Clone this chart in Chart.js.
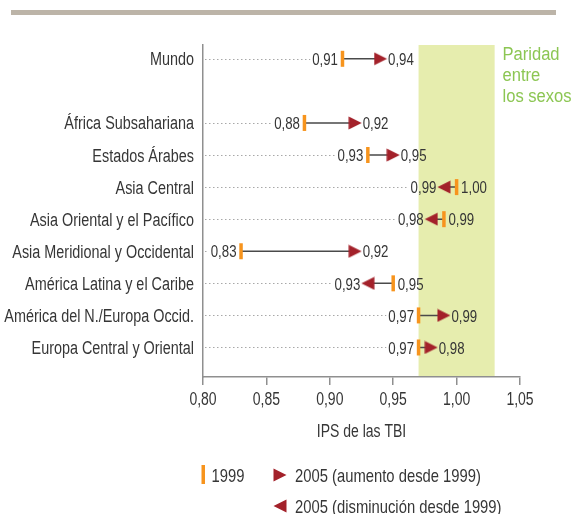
<!DOCTYPE html>
<html>
<head>
<meta charset="utf-8">
<script src="https://cdn.jsdelivr.net/npm/chart.js@4.4.1/dist/chart.umd.min.js"></script>
<style>
  html, body { margin: 0; padding: 0; background: #fff; }
  #wrap { position: relative; width: 572px; height: 514px; }
</style>
</head>
<body>
<div id="wrap"><canvas id="ipsChart"></canvas></div>
<script>
// datos
const regiones = ["Mundo", "", "África Subsahariana", "Estados Árabes", "Asia Central",
  "Asia Oriental y el Pacífico", "Asia Meridional y Occidental", "América Latina y el Caribe",
  "América del N./Europa Occid.", "Europa Central y Oriental"];
const ips1999 = [0.91, null, 0.88, 0.93, 1.00, 0.99, 0.83, 0.95, 0.97, 0.97];
const ips2005 = [0.94, null, 0.92, 0.95, 0.99, 0.98, 0.92, 0.93, 0.99, 0.98];
const xTicks = [0.80, 0.85, 0.90, 0.95, 1.00, 1.05];
const paridad = [0.97, 1.03];
const paridadTexto = ["Paridad", "entre", "los sexos"];
const leyenda = ["1999", "2005 (aumento desde 1999)", "2005 (disminución desde 1999)"];
const tituloX = "IPS de las TBI";

// fuente condensada: Liberation Sans estrechada a mano
const FAMILY = '"Liberation Sans", Arial, sans-serif';
const TXT = '#363636';
const NARANJA = '#f7941d';
const ROJO = '#a3212a';
const VERDE = '#8cc653';

const fmt = v => v.toFixed(2).replace('.', ',');

function texto(ctx, t, x, y, o) {
  const size = o.size || 18, sx = o.sx || 0.8;
  ctx.save();
  ctx.font = size + 'px ' + FAMILY;
  ctx.fillStyle = o.color || TXT;
  ctx.textAlign = o.align || 'left';
  ctx.textBaseline = 'alphabetic';
  ctx.translate(x, y);
  ctx.scale(sx, 1);
  ctx.fillText(t, 0, 0);
  ctx.restore();
}
function ancho(ctx, t, size, sx) {
  ctx.save();
  ctx.font = size + 'px ' + FAMILY;
  const w = ctx.measureText(t).width * sx;
  ctx.restore();
  return w;
}

function triangulo(dir) {
  const c = document.createElement('canvas');
  c.width = 14; c.height = 14;
  const g = c.getContext('2d');
  g.fillStyle = ROJO;
  g.beginPath();
  if (dir > 0) { g.moveTo(0.5, 0.5); g.lineTo(13.5, 7); g.lineTo(0.5, 13.5); }
  else { g.moveTo(13.5, 0.5); g.lineTo(0.5, 7); g.lineTo(13.5, 13.5); }
  g.closePath();
  g.fill();
  return c;
}
const triDer = triangulo(1);
const triIzq = triangulo(-1);

const puntos99 = [], puntos05 = [], tramos = [];
regiones.forEach((r, i) => {
  if (ips1999[i] == null) return;
  puntos99.push({ x: ips1999[i], y: i });
  puntos05.push({ x: ips2005[i], y: i });
  tramos.push({ x: ips1999[i], y: i }, { x: ips2005[i], y: i }, { x: null, y: null });
});

const VAL = { size: 17, sx: 0.78 };

const decor = {
  id: 'decor',
  beforeDraw(chart) {
    const { ctx, chartArea: a, scales: { x, y } } = chart;
    ctx.save();
    ctx.fillStyle = '#bcb4a8';
    ctx.fillRect(11, 10, 545, 5);
    ctx.fillStyle = '#e6edae';
    const x0 = x.getPixelForValue(paridad[0]), x1 = x.getPixelForValue(paridad[1]);
    ctx.fillRect(x0, a.top, x1 - x0, a.bottom - a.top);
    // lineas punteadas
    ctx.strokeStyle = '#a8a8a8';
    ctx.lineWidth = 1;
    ctx.setLineDash([1.5, 2.5]);
    regiones.forEach((r, i) => {
      if (ips1999[i] == null) return;
      const lo = Math.min(ips1999[i], ips2005[i]);
      const esTri = ips2005[i] < ips1999[i];
      const lx = x.getPixelForValue(lo) - (esTri ? 7.5 : 4.5);
      const w = ancho(ctx, fmt(lo), VAL.size, VAL.sx);
      const py = Math.round(y.getPixelForValue(i)) + 0.5;
      const end = lx - w - 2;
      if (end > a.left + 1) {
        ctx.beginPath();
        ctx.moveTo(a.left + 2, py);
        ctx.lineTo(end, py);
        ctx.stroke();
      }
    });
    ctx.restore();
  },
  afterDatasetsDraw(chart) {
    const { ctx, chartArea: a, scales: { x, y } } = chart;
    // etiquetas de regiones
    regiones.forEach((r, i) => {
      if (!r) return;
      texto(ctx, r, a.left - 9, y.getPixelForValue(i) + 6.5, { size: 18, sx: 0.8, align: 'right' });
    });
    // valores
    regiones.forEach((r, i) => {
      if (ips1999[i] == null) return;
      const p = ips1999[i], q = ips2005[i];
      const base = y.getPixelForValue(i) + 6.2;
      const lo = Math.min(p, q), hi = Math.max(p, q);
      const loTri = q < p, hiTri = q > p;
      texto(ctx, fmt(lo), x.getPixelForValue(lo) - (loTri ? 7.5 : 4.5), base, { ...VAL, align: 'right' });
      texto(ctx, fmt(hi), x.getPixelForValue(hi) + (hiTri ? 7.5 : 4.5), base, { ...VAL, align: 'left' });
    });
    // ticks eje x
    xTicks.forEach(v => {
      texto(ctx, fmt(v), x.getPixelForValue(v), 405, { size: 17.5, sx: 0.8, align: 'center' });
    });
    texto(ctx, tituloX, (a.left + a.right) / 2, 436.5, { size: 17.5, sx: 0.8, align: 'center' });
  },
  afterDraw(chart) {
    const { ctx } = chart;
    // paridad
    paridadTexto.forEach((t, k) => texto(ctx, t, 502.5, 60 + k * 21, { size: 18, sx: 0.92, color: VERDE }));
    // leyenda
    ctx.save();
    ctx.fillStyle = NARANJA;
    ctx.fillRect(201.5, 465, 3.5, 19);
    ctx.drawImage(triDer, 273, 468);
    ctx.drawImage(triIzq, 273, 499);
    ctx.restore();
    texto(ctx, leyenda[0], 211.5, 482, { size: 18.5, sx: 0.8 });
    texto(ctx, leyenda[1], 295, 482, { size: 18.5, sx: 0.8 });
    texto(ctx, leyenda[2], 295, 513, { size: 18.5, sx: 0.8 });
  }
};

new Chart(document.getElementById('ipsChart'), {
  type: 'scatter',
  data: {
    datasets: [
      {
        type: 'line',
        data: tramos,
        borderColor: '#4a4a4a',
        borderWidth: 1.5,
        pointRadius: 0,
        spanGaps: false,
        order: 3
      },
      {
        data: puntos99,
        pointStyle: 'line',
        rotation: 90,
        radius: 8,
        borderWidth: 3.5,
        borderColor: NARANJA,
        backgroundColor: NARANJA,
        order: 2
      },
      {
        data: puntos05,
        pointStyle: ctx => {
          const i = ctx.dataIndex;
          const p = puntos05[i], q = puntos99[i];
          return p && q && p.x < q.x ? triIzq : triDer;
        },
        order: 1
      }
    ]
  },
  options: {
    responsive: true,
    maintainAspectRatio: false,
    animation: false,
    events: [],
    layout: { padding: { left: 0, right: 52, top: 45, bottom: 67 } },
    plugins: { legend: { display: false }, tooltip: { enabled: false } },
    scales: {
      x: {
        type: 'linear',
        min: xTicks[0],
        max: xTicks[xTicks.length - 1],
        afterBuildTicks: s => { s.ticks = xTicks.map(v => ({ value: v })); },
        afterFit: s => { s.height = 70; },
        border: { color: '#8f8f8f', width: 1.5 },
        grid: { drawOnChartArea: false, drawTicks: true, tickLength: 8, color: '#8f8f8f', lineWidth: 1.5 },
        ticks: { display: false }
      },
      y: {
        type: 'linear',
        reverse: true,
        min: -0.43,
        max: 9.92,
        afterBuildTicks: s => { s.ticks = regiones.map((r, i) => ({ value: i })); },
        afterFit: s => { s.width = 203; },
        border: { color: '#8f8f8f', width: 1.5 },
        grid: { display: false, drawTicks: false },
        ticks: { display: false }
      }
    }
  },
  plugins: [decor]
});
</script>
</body>
</html>
